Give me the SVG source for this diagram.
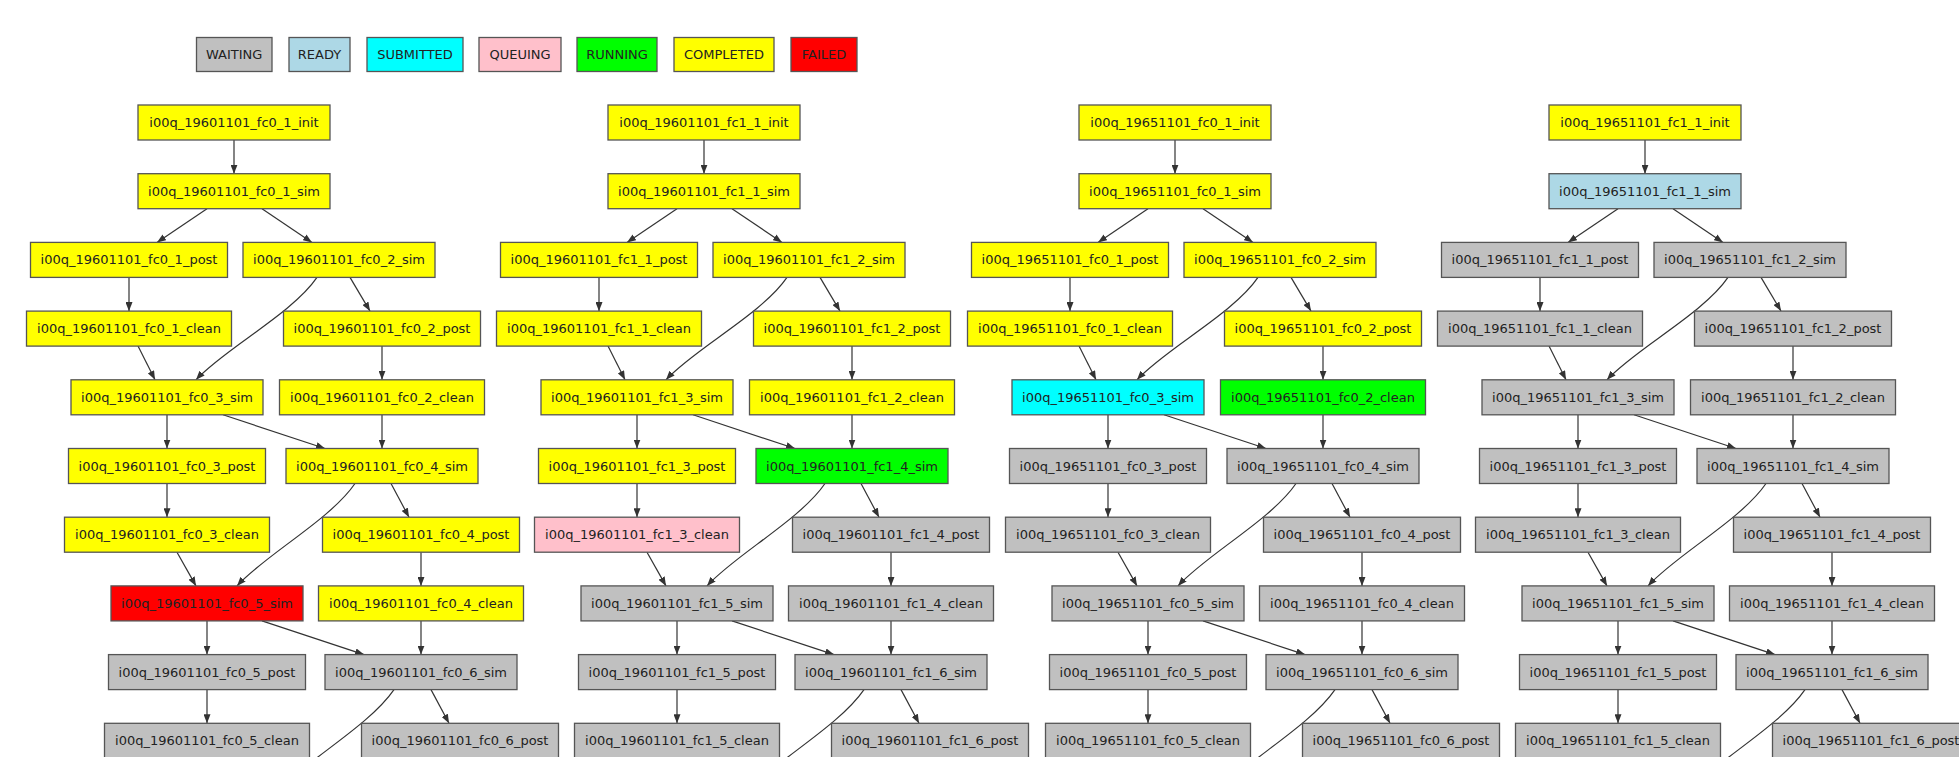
<svg xmlns="http://www.w3.org/2000/svg" width="1959" height="757" viewBox="0 0 1959 757">
<style>
text{font-family:"DejaVu Sans","Liberation Sans",sans-serif;font-size:13px;text-anchor:middle;fill:#222}
rect{stroke:#555;stroke-width:1.3}
rect.bg{fill:#fff;stroke:none}
.w{fill:#c0c0c0}.r{fill:#add8e6}.s{fill:#00ffff}.q{fill:#ffc0cb}.run{fill:#00ff00}.c{fill:#ffff00}.f{fill:#ff0000}
.e{fill:none;stroke:#333;stroke-width:1.2;marker-end:url(#arr)}
</style>
<defs>
<marker id="arr" markerUnits="userSpaceOnUse" markerWidth="9" markerHeight="7" refX="9" refY="3.5" orient="auto"><path d="M0,0 L9,3.5 L0,7 z" fill="#333"/></marker>
<g id="edgeset">
<path class="e" d="M234,140 L234,173.7"/>
<path class="e" d="M207,208.7 L157,242.4"/>
<path class="e" d="M262,208.7 L312,242.4"/>
<path class="e" d="M129,277.4 L129,311.1"/>
<path class="e" d="M350,277.4 L370,311.1"/>
<path class="e" d="M317,277.4 C292,314 224,349 196,379.8"/>
<path class="e" d="M138,346.1 L155,379.8"/>
<path class="e" d="M382,346.1 L382,379.8"/>
<path class="e" d="M167,414.8 L167,448.5"/>
<path class="e" d="M223,414.8 L325,448.5"/>
<path class="e" d="M382,414.8 L382,448.5"/>
<path class="e" d="M167,483.5 L167,517.2"/>
<path class="e" d="M391,483.5 L409,517.2"/>
<path class="e" d="M355,483.5 C330,520 265,555 237,585.9"/>
<path class="e" d="M177,552.2 L196,585.9"/>
<path class="e" d="M421,552.2 L421,585.9"/>
<path class="e" d="M207,620.9 L207,654.6"/>
<path class="e" d="M262,620.9 L364,654.6"/>
<path class="e" d="M421,620.9 L421,654.6"/>
<path class="e" d="M207,689.6 L207,723.3"/>
<path class="e" d="M431,689.6 L449,723.3"/>
<path class="e" d="M394,689.6 C369,726 305,761 277,792"/>
</g>
</defs>
<rect class="bg" x="0" y="0" width="1959" height="757"/>

<g id="legend">
<g id="leg-waiting"><rect class="w" x="196.5" y="37.5" width="75.5" height="34"/><text x="234.2" y="59">WAITING</text></g>
<g id="leg-ready"><rect class="r" x="289" y="37.5" width="61" height="34"/><text x="319.5" y="59">READY</text></g>
<g id="leg-submitted"><rect class="s" x="367" y="37.5" width="96" height="34"/><text x="415" y="59">SUBMITTED</text></g>
<g id="leg-queuing"><rect class="q" x="479" y="37.5" width="82" height="34"/><text x="520" y="59">QUEUING</text></g>
<g id="leg-running"><rect class="run" x="577" y="37.5" width="80" height="34"/><text x="617" y="59">RUNNING</text></g>
<g id="leg-completed"><rect class="c" x="674" y="37.5" width="100" height="34"/><text x="724" y="59">COMPLETED</text></g>
<g id="leg-failed"><rect class="f" x="791" y="37.5" width="66" height="34"/><text x="824" y="59">FAILED</text></g>
</g>

<g id="connectors">
<use href="#edgeset"/>
<use href="#edgeset" x="470"/>
<use href="#edgeset" x="941"/>
<use href="#edgeset" x="1411"/>
</g>

<g id="graph-19601101-fc0">
<g id="a_1_init" transform="translate(234,105)"><rect class="c" x="-96" width="192" height="35"/><text y="22">i00q_19601101_fc0_1_init</text></g>
<g id="a_1_sim" transform="translate(234,173.7)"><rect class="c" x="-96" width="192" height="35"/><text y="22">i00q_19601101_fc0_1_sim</text></g>
<g id="a_1_post" transform="translate(129,242.4)"><rect class="c" x="-98.5" width="197" height="35"/><text y="22">i00q_19601101_fc0_1_post</text></g>
<g id="a_2_sim" transform="translate(339,242.4)"><rect class="c" x="-96" width="192" height="35"/><text y="22">i00q_19601101_fc0_2_sim</text></g>
<g id="a_1_clean" transform="translate(129,311.1)"><rect class="c" x="-102.5" width="205" height="35"/><text y="22">i00q_19601101_fc0_1_clean</text></g>
<g id="a_2_post" transform="translate(382,311.1)"><rect class="c" x="-98.5" width="197" height="35"/><text y="22">i00q_19601101_fc0_2_post</text></g>
<g id="a_3_sim" transform="translate(167,379.8)"><rect class="c" x="-96" width="192" height="35"/><text y="22">i00q_19601101_fc0_3_sim</text></g>
<g id="a_2_clean" transform="translate(382,379.8)"><rect class="c" x="-102.5" width="205" height="35"/><text y="22">i00q_19601101_fc0_2_clean</text></g>
<g id="a_3_post" transform="translate(167,448.5)"><rect class="c" x="-98.5" width="197" height="35"/><text y="22">i00q_19601101_fc0_3_post</text></g>
<g id="a_4_sim" transform="translate(382,448.5)"><rect class="c" x="-96" width="192" height="35"/><text y="22">i00q_19601101_fc0_4_sim</text></g>
<g id="a_3_clean" transform="translate(167,517.2)"><rect class="c" x="-102.5" width="205" height="35"/><text y="22">i00q_19601101_fc0_3_clean</text></g>
<g id="a_4_post" transform="translate(421,517.2)"><rect class="c" x="-98.5" width="197" height="35"/><text y="22">i00q_19601101_fc0_4_post</text></g>
<g id="a_5_sim" transform="translate(207,585.9)"><rect class="f" x="-96" width="192" height="35"/><text y="22">i00q_19601101_fc0_5_sim</text></g>
<g id="a_4_clean" transform="translate(421,585.9)"><rect class="c" x="-102.5" width="205" height="35"/><text y="22">i00q_19601101_fc0_4_clean</text></g>
<g id="a_5_post" transform="translate(207,654.6)"><rect class="w" x="-98.5" width="197" height="35"/><text y="22">i00q_19601101_fc0_5_post</text></g>
<g id="a_6_sim" transform="translate(421,654.6)"><rect class="w" x="-96" width="192" height="35"/><text y="22">i00q_19601101_fc0_6_sim</text></g>
<g id="a_5_clean" transform="translate(207,723.3)"><rect class="w" x="-102.5" width="205" height="35"/><text y="22">i00q_19601101_fc0_5_clean</text></g>
<g id="a_6_post" transform="translate(460,723.3)"><rect class="w" x="-98.5" width="197" height="35"/><text y="22">i00q_19601101_fc0_6_post</text></g>
</g>

<g id="graph-19601101-fc1" transform="translate(470,0)">
<g id="b_1_init" transform="translate(234,105)"><rect class="c" x="-96" width="192" height="35"/><text y="22">i00q_19601101_fc1_1_init</text></g>
<g id="b_1_sim" transform="translate(234,173.7)"><rect class="c" x="-96" width="192" height="35"/><text y="22">i00q_19601101_fc1_1_sim</text></g>
<g id="b_1_post" transform="translate(129,242.4)"><rect class="c" x="-98.5" width="197" height="35"/><text y="22">i00q_19601101_fc1_1_post</text></g>
<g id="b_2_sim" transform="translate(339,242.4)"><rect class="c" x="-96" width="192" height="35"/><text y="22">i00q_19601101_fc1_2_sim</text></g>
<g id="b_1_clean" transform="translate(129,311.1)"><rect class="c" x="-102.5" width="205" height="35"/><text y="22">i00q_19601101_fc1_1_clean</text></g>
<g id="b_2_post" transform="translate(382,311.1)"><rect class="c" x="-98.5" width="197" height="35"/><text y="22">i00q_19601101_fc1_2_post</text></g>
<g id="b_3_sim" transform="translate(167,379.8)"><rect class="c" x="-96" width="192" height="35"/><text y="22">i00q_19601101_fc1_3_sim</text></g>
<g id="b_2_clean" transform="translate(382,379.8)"><rect class="c" x="-102.5" width="205" height="35"/><text y="22">i00q_19601101_fc1_2_clean</text></g>
<g id="b_3_post" transform="translate(167,448.5)"><rect class="c" x="-98.5" width="197" height="35"/><text y="22">i00q_19601101_fc1_3_post</text></g>
<g id="b_4_sim" transform="translate(382,448.5)"><rect class="run" x="-96" width="192" height="35"/><text y="22">i00q_19601101_fc1_4_sim</text></g>
<g id="b_3_clean" transform="translate(167,517.2)"><rect class="q" x="-102.5" width="205" height="35"/><text y="22">i00q_19601101_fc1_3_clean</text></g>
<g id="b_4_post" transform="translate(421,517.2)"><rect class="w" x="-98.5" width="197" height="35"/><text y="22">i00q_19601101_fc1_4_post</text></g>
<g id="b_5_sim" transform="translate(207,585.9)"><rect class="w" x="-96" width="192" height="35"/><text y="22">i00q_19601101_fc1_5_sim</text></g>
<g id="b_4_clean" transform="translate(421,585.9)"><rect class="w" x="-102.5" width="205" height="35"/><text y="22">i00q_19601101_fc1_4_clean</text></g>
<g id="b_5_post" transform="translate(207,654.6)"><rect class="w" x="-98.5" width="197" height="35"/><text y="22">i00q_19601101_fc1_5_post</text></g>
<g id="b_6_sim" transform="translate(421,654.6)"><rect class="w" x="-96" width="192" height="35"/><text y="22">i00q_19601101_fc1_6_sim</text></g>
<g id="b_5_clean" transform="translate(207,723.3)"><rect class="w" x="-102.5" width="205" height="35"/><text y="22">i00q_19601101_fc1_5_clean</text></g>
<g id="b_6_post" transform="translate(460,723.3)"><rect class="w" x="-98.5" width="197" height="35"/><text y="22">i00q_19601101_fc1_6_post</text></g>
</g>

<g id="graph-19651101-fc0" transform="translate(941,0)">
<g id="c_1_init" transform="translate(234,105)"><rect class="c" x="-96" width="192" height="35"/><text y="22">i00q_19651101_fc0_1_init</text></g>
<g id="c_1_sim" transform="translate(234,173.7)"><rect class="c" x="-96" width="192" height="35"/><text y="22">i00q_19651101_fc0_1_sim</text></g>
<g id="c_1_post" transform="translate(129,242.4)"><rect class="c" x="-98.5" width="197" height="35"/><text y="22">i00q_19651101_fc0_1_post</text></g>
<g id="c_2_sim" transform="translate(339,242.4)"><rect class="c" x="-96" width="192" height="35"/><text y="22">i00q_19651101_fc0_2_sim</text></g>
<g id="c_1_clean" transform="translate(129,311.1)"><rect class="c" x="-102.5" width="205" height="35"/><text y="22">i00q_19651101_fc0_1_clean</text></g>
<g id="c_2_post" transform="translate(382,311.1)"><rect class="c" x="-98.5" width="197" height="35"/><text y="22">i00q_19651101_fc0_2_post</text></g>
<g id="c_3_sim" transform="translate(167,379.8)"><rect class="s" x="-96" width="192" height="35"/><text y="22">i00q_19651101_fc0_3_sim</text></g>
<g id="c_2_clean" transform="translate(382,379.8)"><rect class="run" x="-102.5" width="205" height="35"/><text y="22">i00q_19651101_fc0_2_clean</text></g>
<g id="c_3_post" transform="translate(167,448.5)"><rect class="w" x="-98.5" width="197" height="35"/><text y="22">i00q_19651101_fc0_3_post</text></g>
<g id="c_4_sim" transform="translate(382,448.5)"><rect class="w" x="-96" width="192" height="35"/><text y="22">i00q_19651101_fc0_4_sim</text></g>
<g id="c_3_clean" transform="translate(167,517.2)"><rect class="w" x="-102.5" width="205" height="35"/><text y="22">i00q_19651101_fc0_3_clean</text></g>
<g id="c_4_post" transform="translate(421,517.2)"><rect class="w" x="-98.5" width="197" height="35"/><text y="22">i00q_19651101_fc0_4_post</text></g>
<g id="c_5_sim" transform="translate(207,585.9)"><rect class="w" x="-96" width="192" height="35"/><text y="22">i00q_19651101_fc0_5_sim</text></g>
<g id="c_4_clean" transform="translate(421,585.9)"><rect class="w" x="-102.5" width="205" height="35"/><text y="22">i00q_19651101_fc0_4_clean</text></g>
<g id="c_5_post" transform="translate(207,654.6)"><rect class="w" x="-98.5" width="197" height="35"/><text y="22">i00q_19651101_fc0_5_post</text></g>
<g id="c_6_sim" transform="translate(421,654.6)"><rect class="w" x="-96" width="192" height="35"/><text y="22">i00q_19651101_fc0_6_sim</text></g>
<g id="c_5_clean" transform="translate(207,723.3)"><rect class="w" x="-102.5" width="205" height="35"/><text y="22">i00q_19651101_fc0_5_clean</text></g>
<g id="c_6_post" transform="translate(460,723.3)"><rect class="w" x="-98.5" width="197" height="35"/><text y="22">i00q_19651101_fc0_6_post</text></g>
</g>

<g id="graph-19651101-fc1" transform="translate(1411,0)">
<g id="d_1_init" transform="translate(234,105)"><rect class="c" x="-96" width="192" height="35"/><text y="22">i00q_19651101_fc1_1_init</text></g>
<g id="d_1_sim" transform="translate(234,173.7)"><rect class="r" x="-96" width="192" height="35"/><text y="22">i00q_19651101_fc1_1_sim</text></g>
<g id="d_1_post" transform="translate(129,242.4)"><rect class="w" x="-98.5" width="197" height="35"/><text y="22">i00q_19651101_fc1_1_post</text></g>
<g id="d_2_sim" transform="translate(339,242.4)"><rect class="w" x="-96" width="192" height="35"/><text y="22">i00q_19651101_fc1_2_sim</text></g>
<g id="d_1_clean" transform="translate(129,311.1)"><rect class="w" x="-102.5" width="205" height="35"/><text y="22">i00q_19651101_fc1_1_clean</text></g>
<g id="d_2_post" transform="translate(382,311.1)"><rect class="w" x="-98.5" width="197" height="35"/><text y="22">i00q_19651101_fc1_2_post</text></g>
<g id="d_3_sim" transform="translate(167,379.8)"><rect class="w" x="-96" width="192" height="35"/><text y="22">i00q_19651101_fc1_3_sim</text></g>
<g id="d_2_clean" transform="translate(382,379.8)"><rect class="w" x="-102.5" width="205" height="35"/><text y="22">i00q_19651101_fc1_2_clean</text></g>
<g id="d_3_post" transform="translate(167,448.5)"><rect class="w" x="-98.5" width="197" height="35"/><text y="22">i00q_19651101_fc1_3_post</text></g>
<g id="d_4_sim" transform="translate(382,448.5)"><rect class="w" x="-96" width="192" height="35"/><text y="22">i00q_19651101_fc1_4_sim</text></g>
<g id="d_3_clean" transform="translate(167,517.2)"><rect class="w" x="-102.5" width="205" height="35"/><text y="22">i00q_19651101_fc1_3_clean</text></g>
<g id="d_4_post" transform="translate(421,517.2)"><rect class="w" x="-98.5" width="197" height="35"/><text y="22">i00q_19651101_fc1_4_post</text></g>
<g id="d_5_sim" transform="translate(207,585.9)"><rect class="w" x="-96" width="192" height="35"/><text y="22">i00q_19651101_fc1_5_sim</text></g>
<g id="d_4_clean" transform="translate(421,585.9)"><rect class="w" x="-102.5" width="205" height="35"/><text y="22">i00q_19651101_fc1_4_clean</text></g>
<g id="d_5_post" transform="translate(207,654.6)"><rect class="w" x="-98.5" width="197" height="35"/><text y="22">i00q_19651101_fc1_5_post</text></g>
<g id="d_6_sim" transform="translate(421,654.6)"><rect class="w" x="-96" width="192" height="35"/><text y="22">i00q_19651101_fc1_6_sim</text></g>
<g id="d_5_clean" transform="translate(207,723.3)"><rect class="w" x="-102.5" width="205" height="35"/><text y="22">i00q_19651101_fc1_5_clean</text></g>
<g id="d_6_post" transform="translate(460,723.3)"><rect class="w" x="-98.5" width="197" height="35"/><text y="22">i00q_19651101_fc1_6_post</text></g>
</g>
</svg>
